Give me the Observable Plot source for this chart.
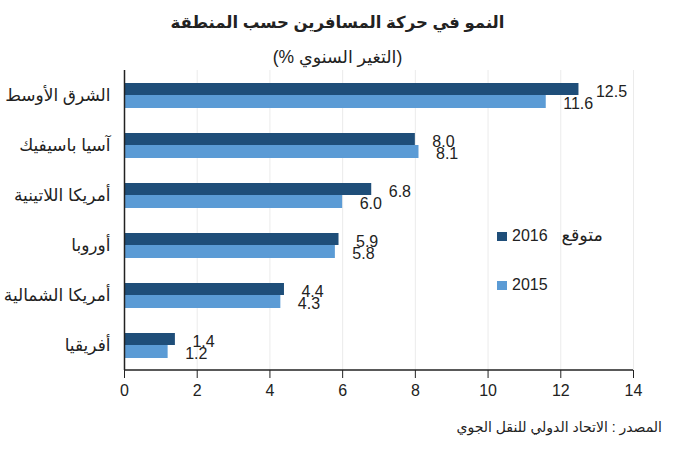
<!DOCTYPE html>
<html>
<head>
<meta charset="utf-8">
<script src="https://cdn.jsdelivr.net/npm/d3@7"></script>
<script src="https://cdn.jsdelivr.net/npm/@observablehq/plot@0.6"></script>
<style>
  html, body { margin: 0; padding: 0; background: #fff; }
  body { width: 675px; height: 450px; position: relative; overflow: hidden;
         font-family: "Liberation Sans", Arial, "DejaVu Sans", sans-serif; color: #222; }
  .abs { position: absolute; }
  #title { top: 9px; left: 0; width: 675px; text-align: center; font-weight: bold; font-size: 16.5px; line-height: 26px; }
  #subtitle { top: 45px; left: 0; width: 675px; text-align: center; font-size: 17.5px; line-height: 24px; }
  #chart { top: 70px; left: 0; }
  #caption { top: 417px; right: 13px; font-size: 14px; line-height: 20px; }
  .leg { font-size: 16px; line-height: 20px; white-space: nowrap; }
  .leg .ar { font-size: 17.5px; margin-left: 14px; }
  .sw { display: inline-block; width: 10px; height: 9px; margin-right: 5px; vertical-align: 0px; }
</style>
</head>
<body>
<div id="title" class="abs" dir="rtl"></div>
<div id="subtitle" class="abs" dir="rtl"></div>
<div id="chart" class="abs"></div>
<div id="leg1" class="abs leg" style="left:497px; top:225px;"></div>
<div id="leg2" class="abs leg" style="left:497px; top:275px;"></div>
<div id="caption" class="abs" dir="rtl"></div>
<script>
const titleText = "النمو في حركة المسافرين حسب المنطقة";
const subtitleText = "(التغير السنوي %)";
const captionText = "المصدر : الاتحاد الدولي للنقل الجوي";
const regions = ["الشرق الأوسط", "آسيا باسيفيك", "أمريكا اللاتينية", "أوروبا", "أمريكا الشمالية", "أفريقيا"];
const v2016 = [12.5, 8.0, 6.8, 5.9, 4.4, 1.4];
const v2015 = [11.6, 8.1, 6.0, 5.8, 4.3, 1.2];
const xTicks = [0, 2, 4, 6, 8, 10, 12, 14];
const seriesYears = ["2016", "2015"];
const seriesNotes = ["متوقع", ""];
const colors = ["#1f4e79", "#5b9bd5"];

document.getElementById("title").textContent = titleText;
document.getElementById("subtitle").textContent = subtitleText;
document.getElementById("caption").textContent = captionText;
["leg1", "leg2"].forEach((id, i) => {
  document.getElementById(id).innerHTML =
    `<span class="sw" style="background:${colors[i]}"></span>${seriesYears[i]}` +
    (seriesNotes[i] ? `<span class="ar">${seriesNotes[i]}</span>` : "");
});

const data = regions.map((r, i) => ({region: r, a: v2016[i], b: v2015[i]}));

const W = 675, H = 335, mL = 124, mR = 42, mT = 0, mB = 35;
const chart = Plot.plot({
  width: W, height: H,
  marginLeft: mL, marginRight: mR, marginTop: mT, marginBottom: mB,
  style: {fontFamily: "'Liberation Sans', Arial, 'DejaVu Sans', sans-serif", fontSize: "16px", color: "#222", background: "transparent"},
  x: {domain: [0, 14], ticks: xTicks, tickSize: 8, tickPadding: 6, label: null, tickFormat: d => String(d)},
  y: {domain: regions, padding: 0, tickSize: 0, tickPadding: 14, label: null},
  marks: [
    Plot.ruleX(xTicks.slice(1), {stroke: "#ebebeb", strokeWidth: 1}),
    Plot.barX(data, {x: "a", y: "region", fill: colors[0], insetTop: 13, insetBottom: 25}),
    Plot.barX(data, {x: "b", y: "region", fill: colors[1], insetTop: 25, insetBottom: 12}),
    Plot.text(data, {x: "a", y: "region", text: d => d.a.toFixed(1), dx: 17, dy: -4, textAnchor: "start", fontSize: 16, fill: "#222"}),
    Plot.text(data, {x: "b", y: "region", text: d => d.b.toFixed(1), dx: 17, dy: 8, textAnchor: "start", fontSize: 16, fill: "#222"}),
    Plot.ruleX([0], {stroke: "#222", strokeWidth: 1.5})
  ]
});
document.getElementById("chart").appendChild(chart);

// bottom axis line along the frame edge
const xs = chart.scale("x");
d3.select(chart).append("line")
  .attr("x1", xs.apply(0)).attr("x2", xs.apply(14))
  .attr("y1", H - mB).attr("y2", H - mB)
  .attr("stroke", "#222").attr("stroke-width", 1.5);
// y axis labels (Arabic) a bit larger
d3.select(chart).selectAll("g[aria-label='y-axis tick label'] text").attr("font-size", 17);
</script>
</body>
</html>
